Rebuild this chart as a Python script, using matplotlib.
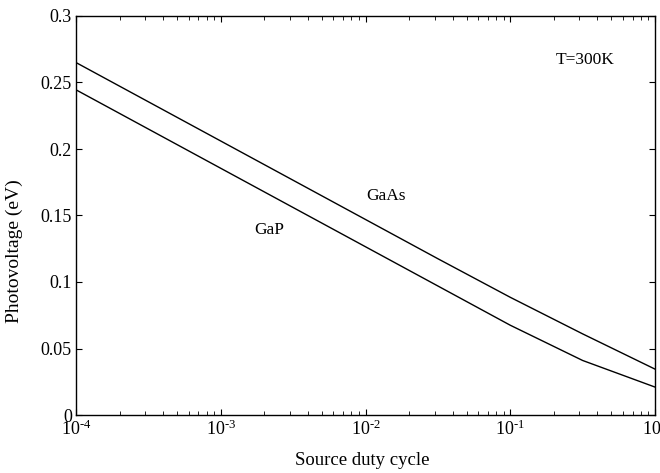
import numpy as np
import matplotlib
matplotlib.use("Agg")
import matplotlib.pyplot as plt
from matplotlib.ticker import LogLocator, NullFormatter

duty = [1e-4, 10**-3.5, 1e-3, 10**-2.5, 1e-2, 10**-1.5, 1e-1, 10**-0.5, 1.0]
gaas = [0.265, 0.2355, 0.206, 0.1765, 0.147, 0.1175, 0.0885, 0.061, 0.0345]
gap = [0.2445, 0.215, 0.1855, 0.156, 0.1265, 0.097, 0.0675, 0.041, 0.021]
yticks = [0, 0.05, 0.1, 0.15, 0.2, 0.25, 0.3]
ytick_labels = ["0", "0.05", "0.1", "0.15", "0.2", "0.25", "0.3"]
xticks = [1e-4, 1e-3, 1e-2, 1e-1, 1.0]
xtick_labels = [r"10$^{\text{-4}}$", r"10$^{\text{-3}}$", r"10$^{\text{-2}}$",
                r"10$^{\text{-1}}$", r"10$^{\text{0}}$"]

plt.rcParams['font.family'] = ['Liberation Serif', 'DejaVu Serif']
plt.rcParams['mathtext.fontset'] = 'custom'
plt.rcParams['mathtext.rm'] = 'Liberation Serif'
plt.rcParams['mathtext.it'] = 'Liberation Serif'
plt.rcParams['mathtext.default'] = 'regular'

fig = plt.figure(figsize=(6.6, 4.73), dpi=100)
ax = fig.add_axes([76/660, 58/473, 579/660, 399/473])
ax.plot(duty, gaas, color='black', lw=1.0)
ax.plot(duty, gap, color='black', lw=1.0)
ax.set_xscale('log')
ax.set_xlim(1e-4, 1)
ax.set_ylim(0, 0.3)
ax.set_yticks(yticks)
ax.set_yticklabels(ytick_labels)
ax.set_xticks(xticks)
ax.set_xticklabels(xtick_labels)
ax.xaxis.set_minor_locator(LogLocator(base=10, subs=np.arange(2, 10), numticks=20))
ax.xaxis.set_minor_formatter(NullFormatter())
ax.tick_params(direction='in', which='both', top=True, right=True, labelsize=13, pad=3)
ax.tick_params(which='major', length=4)
ax.tick_params(which='minor', length=3)
for s in ax.spines.values():
    s.set_linewidth(1.0)

ax.text(0.0101, 0.165, "GaAs", fontsize=12.5, va='center')
ax.text(1.7e-3, 0.139, "GaP", fontsize=12.5, va='center')
ax.text(0.205, 0.267, "T=300K", fontsize=12.5, va='center')

ax.set_xlabel("Source duty cycle", fontsize=13.5)
ax.xaxis.set_label_coords(0.494, -0.093)
ax.set_ylabel("Photovoltage (eV)", fontsize=14)
ax.yaxis.set_label_coords(-0.091, 0.41)

fig.savefig("out.png", dpi=100)
